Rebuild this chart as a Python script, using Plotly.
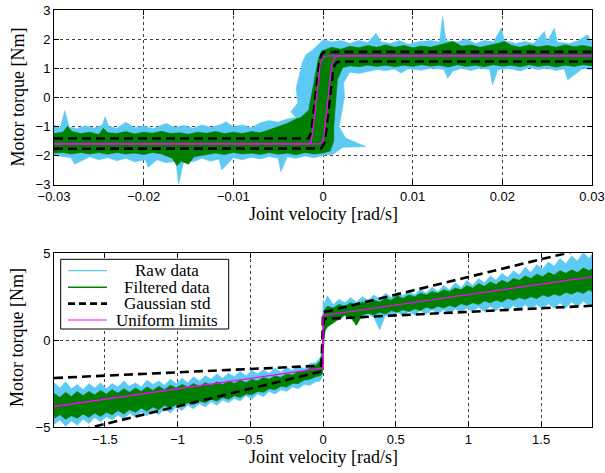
import plotly.graph_objects as go

# ---------------- TOP PANEL DATA (zoomed in near zero velocity) ----------------
TOP_RAW_UP_X = [-0.030, -0.0293, -0.0288, -0.0283, -0.0275, -0.0265, -0.0255, -0.0246, -0.0243, -0.0239,
                -0.023, -0.022, -0.021, -0.020, -0.019, -0.0175, -0.0165, -0.0155, -0.0145, -0.0135,
                -0.0125, -0.0113, -0.0108, -0.0100, -0.009, -0.008, -0.007, -0.006, -0.005, -0.004,
                -0.0030, -0.0036, -0.0028, -0.0030, -0.0025, -0.0023, -0.0019, -0.0012, -0.0004, 0.0001,
                0.001, 0.002, 0.003, 0.004, 0.005, 0.0059, 0.0065, 0.0075, 0.0085, 0.0095,
                0.0105, 0.012, 0.0130, 0.01334, 0.0137, 0.015, 0.016, 0.017, 0.018, 0.019,
                0.0199, 0.0202, 0.0215, 0.0225, 0.0235, 0.0247, 0.0250, 0.0258, 0.0261, 0.0275,
                0.0285, 0.0295, 0.030]
TOP_RAW_UP_Y = [-0.95, -1.05, -0.46, -1.02, -1.08, -0.98, -1.06, -0.95, -0.67, -1.0,
                -1.07, -0.86, -1.05, -0.98, -1.08, -0.90, -1.04, -0.97, -1.07, -0.95,
                -1.04, -0.93, -0.84, -1.02, -0.95, -1.05, -0.88, -0.80, -0.86, -0.75,
                -0.70, -0.50, -0.20, 0.30, 0.94, 1.20, 1.46, 1.62, 1.85, 1.98,
                1.90, 1.95, 1.85, 1.95, 1.88, 2.20, 1.90, 1.85, 1.95, 1.82,
                1.90, 1.95, 1.90, 2.78, 1.95, 1.90, 2.00, 1.85, 1.95, 1.90,
                2.38, 1.95, 1.85, 1.92, 1.85, 2.26, 1.90, 2.38, 1.90, 1.85,
                1.95, 2.15, 1.90]
TOP_RAW_LO_X = [0.030, 0.029, 0.0273, 0.0269, 0.026, 0.025, 0.024, 0.023, 0.022, 0.021,
                0.0195, 0.0189, 0.0186, 0.0175, 0.0165, 0.0155, 0.0145, 0.0139, 0.0135, 0.012,
                0.011, 0.0095, 0.0087, 0.008, 0.007, 0.006, 0.005, 0.004, 0.003, 0.0023,
                0.0024, 0.0020, 0.0018, 0.0025, 0.0048, 0.0022, 0.0012, 0.0, -0.001, -0.002,
                -0.003, -0.004, -0.0047, -0.0050, -0.006, -0.007, -0.008, -0.009, -0.010, -0.0113,
                -0.0116, -0.0125, -0.0135, -0.0145, -0.0155, -0.0161, -0.0164, -0.0175, -0.0185, -0.0195,
                -0.0198, -0.021, -0.022, -0.023, -0.024, -0.025, -0.026, -0.0277, -0.0281, -0.030]
TOP_RAW_LO_Y = [0.95, 1.00, 0.60, 0.98, 0.92, 1.00, 0.95, 1.02, 0.90, 0.98,
                0.95, 0.42, 0.95, 1.00, 0.92, 1.00, 0.90, 0.65, 0.95, 1.00,
                0.93, 0.98, 0.83, 0.97, 0.92, 0.95, 0.88, 0.82, 0.86, 0.50,
                0.02, -0.60, -1.01, -1.40, -1.70, -1.72, -1.95, -2.00, -2.08, -2.02,
                -2.10, -2.05, -2.56, -2.10, -2.04, -2.12, -2.06, -2.15, -2.08, -2.50,
                -2.12, -2.20, -2.10, -2.22, -2.15, -3.00, -2.20, -2.25, -2.15, -2.41,
                -2.15, -2.22, -2.10, -2.18, -2.08, -2.15, -2.05, -2.30, -2.08, -1.99]

TOP_FILT_UP_X = [-0.030, -0.029, -0.0285, -0.028, -0.027, -0.026, -0.025, -0.0245, -0.024, -0.023,
                 -0.022, -0.021, -0.020, -0.019, -0.018, -0.017, -0.016, -0.015, -0.014, -0.013,
                 -0.012, -0.011, -0.010, -0.009, -0.008, -0.007, -0.006, -0.005, -0.004, -0.003,
                 -0.0025, -0.0016, -0.0012, -0.0008, -0.0005, -0.0001, 0.001, 0.002, 0.003, 0.004,
                 0.005, 0.006, 0.007, 0.008, 0.009, 0.010, 0.011, 0.012, 0.013, 0.0145,
                 0.0155, 0.0165, 0.0175, 0.0185, 0.0195, 0.0202, 0.021, 0.022, 0.023, 0.024,
                 0.025, 0.026, 0.027, 0.028, 0.029, 0.030]
TOP_FILT_UP_Y = [-1.25, -1.20, -1.00, -1.18, -1.25, -1.20, -1.28, -1.07, -1.22, -1.25,
                 -1.18, -1.26, -1.20, -1.24, -1.17, -1.25, -1.22, -1.27, -1.20, -1.24,
                 -1.18, -1.25, -1.20, -1.25, -1.18, -1.22, -1.12, -1.00, -0.90, -0.75,
                 -0.70, -0.45, 0.20, 0.90, 1.35, 1.60, 1.72, 1.65, 1.75, 1.70,
                 1.78, 1.72, 1.80, 1.72, 1.78, 1.70, 1.76, 1.72, 1.80, 1.92,
                 1.75, 1.80, 1.72, 1.78, 1.85, 1.92, 1.78, 1.72, 1.80, 1.73,
                 1.78, 1.72, 1.80, 1.74, 1.78, 1.72]
TOP_FILT_LO_X = [0.030, 0.029, 0.028, 0.027, 0.026, 0.025, 0.024, 0.023, 0.022, 0.021,
                 0.020, 0.019, 0.018, 0.017, 0.016, 0.015, 0.014, 0.013, 0.012, 0.011,
                 0.010, 0.009, 0.008, 0.007, 0.006, 0.005, 0.004, 0.003, 0.0022, 0.0016,
                 0.0014, 0.0012, 0.0012, 0.0008, 0.0, -0.001, -0.002, -0.003, -0.004, -0.005,
                 -0.006, -0.007, -0.008, -0.009, -0.010, -0.011, -0.012, -0.013, -0.0144, -0.0150,
                 -0.0158, -0.0163, -0.0168, -0.018, -0.019, -0.020, -0.021, -0.022, -0.023, -0.024,
                 -0.025, -0.026, -0.027, -0.028, -0.029, -0.030]
TOP_FILT_LO_Y = [1.08, 1.12, 1.06, 1.10, 1.04, 1.10, 1.06, 1.12, 1.05, 1.10,
                 1.07, 1.12, 1.05, 1.10, 1.06, 1.12, 1.04, 1.10, 1.07, 1.12,
                 1.06, 1.10, 1.05, 1.10, 1.06, 1.10, 1.05, 1.08, 1.02, 0.60,
                 -0.20, -1.00, -1.50, -1.85, -1.92, -1.95, -1.90, -1.98, -1.92, -1.96,
                 -1.90, -1.97, -1.92, -1.95, -1.90, -1.97, -1.92, -1.98, -2.05, -2.30,
                 -2.20, -2.35, -2.10, -1.95, -1.90, -1.97, -1.92, -1.95, -1.90, -1.96,
                 -1.90, -1.95, -1.90, -1.95, -1.90, -1.92]

TOP_STD_UP_X = [-0.03, -0.0016, -0.0013, -0.0010, -0.0007, -0.0004, -0.0002, 0.0, 0.0003, 0.03]
TOP_STD_UP_Y = [-1.42, -1.42, -1.20, -0.40, 0.50, 1.20, 1.45, 1.54, 1.56, 1.56]
TOP_STD_LO_X = [-0.03, -0.0002, 0.0002, 0.0005, 0.0008, 0.0011, 0.0013, 0.0016, 0.002, 0.03]
TOP_STD_LO_Y = [-1.77, -1.76, -1.55, -0.80, 0.10, 0.85, 1.12, 1.21, 1.23, 1.23]

TOP_UNI_UP_X = [-0.03, -0.0016, -0.0013, -0.0011, -0.0008, -0.0005, -0.0003, 0.0, 0.0005, 0.03]
TOP_UNI_UP_Y = [-1.60, -1.60, -1.52, -1.10, -0.20, 0.60, 1.15, 1.37, 1.42, 1.42]
TOP_UNI_LO_X = [-0.03, -0.0004, 0.0, 0.0002, 0.0005, 0.0008, 0.0010, 0.0013, 0.0018, 0.03]
TOP_UNI_LO_Y = [-1.60, -1.60, -1.52, -1.10, -0.20, 0.60, 1.15, 1.37, 1.42, 1.42]

# ---------------- BOTTOM PANEL DATA (full velocity range) ----------------
# envelopes of the data clouds, read at these velocities (ascending)
BOT_X_NEG = [-1.85, -1.81, -1.77, -1.73, -1.69, -1.65, -1.61, -1.57,
             -1.53, -1.49, -1.45, -1.41, -1.37, -1.33, -1.29, -1.25,
             -1.21, -1.17, -1.13, -1.09, -1.05, -1.01, -0.97, -0.93,
             -0.89, -0.85, -0.81, -0.77, -0.73, -0.69, -0.65, -0.61,
             -0.57, -0.53, -0.49, -0.45, -0.41, -0.37, -0.33, -0.29,
             -0.25, -0.21, -0.17, -0.13, -0.09, -0.05, -0.02, -0.005]
BOT_X_POS = [0.0, 0.01, 0.03, 0.07, 0.11, 0.15, 0.19, 0.23,
             0.27, 0.31, 0.35, 0.39, 0.43, 0.47, 0.51, 0.55,
             0.59, 0.63, 0.67, 0.71, 0.75, 0.79, 0.83, 0.87,
             0.91, 0.95, 0.99, 1.03, 1.07, 1.11, 1.15, 1.19,
             1.23, 1.27, 1.31, 1.35, 1.39, 1.43, 1.47, 1.51,
             1.55, 1.59, 1.63, 1.67, 1.71, 1.75, 1.79, 1.83,
             1.85]

BOT_RAW_UP_NEG = [-2.45, -2.75, -2.40, -2.80, -2.55, -2.85, -2.50, -2.75,
                  -2.45, -2.80, -2.50, -2.70, -2.35, -2.65, -2.45, -2.70,
                  -2.30, -2.55, -2.35, -2.60, -2.25, -2.50, -2.20, -2.45,
                  -2.10, -2.35, -2.05, -2.25, -1.95, -2.20, -1.90, -2.10,
                  -1.80, -2.05, -1.75, -1.95, -1.70, -1.90, -1.60, -1.85,
                  -1.55, -1.75, -1.45, -1.65, -1.35, -1.30, -1.00, -0.55]
BOT_RAW_LO_NEG = [-4.85, -4.60, -4.95, -4.65, -4.90, -4.55, -4.80, -4.45,
                  -4.70, -4.40, -4.60, -4.30, -4.55, -4.20, -4.45, -4.15,
                  -4.35, -4.05, -4.30, -3.95, -4.20, -3.85, -4.05, -3.75,
                  -3.95, -3.65, -3.85, -3.55, -3.75, -3.45, -3.60, -3.35,
                  -3.50, -3.20, -3.40, -3.10, -3.25, -2.95, -3.10, -2.85,
                  -2.95, -2.70, -2.80, -2.55, -2.60, -2.40, -2.35, -2.10]
BOT_FILT_UP_NEG = [-3.05, -3.30, -3.00, -3.25, -2.95, -3.20, -2.95, -3.15,
                   -2.90, -3.10, -2.85, -3.05, -2.80, -3.00, -2.75, -2.95,
                   -2.70, -2.90, -2.65, -2.85, -2.60, -2.75, -2.55, -2.70,
                   -2.50, -2.65, -2.45, -2.60, -2.40, -2.55, -2.35, -2.50,
                   -2.30, -2.45, -2.25, -2.35, -2.15, -2.25, -2.05, -2.15,
                   -1.95, -2.00, -1.80, -1.80, -1.60, -1.45, -1.20, -0.80]
BOT_FILT_LO_NEG = [-4.50, -4.30, -4.55, -4.35, -4.50, -4.25, -4.45, -4.20,
                   -4.40, -4.15, -4.30, -4.05, -4.25, -4.00, -4.15, -3.90,
                   -4.10, -3.85, -4.00, -3.75, -3.90, -3.70, -3.80, -3.60,
                   -3.70, -3.50, -3.60, -3.40, -3.50, -3.30, -3.40, -3.20,
                   -3.30, -3.10, -3.15, -2.95, -3.00, -2.80, -2.85, -2.65,
                   -2.70, -2.50, -2.50, -2.30, -2.25, -2.10, -2.05, -1.95]
BOT_RAW_UP_POS = [2.30, 2.10, 2.55, 2.05, 2.35, 2.15, 2.45, 2.20,
                  2.50, 2.30, 2.60, 2.35, 2.70, 2.45, 2.75, 2.55,
                  2.85, 2.60, 2.95, 2.70, 3.05, 2.80, 3.15, 2.90,
                  3.30, 3.00, 3.45, 3.15, 3.55, 3.30, 3.70, 3.45,
                  3.85, 3.60, 4.00, 3.75, 4.20, 3.90, 4.35, 4.10,
                  4.50, 4.25, 4.70, 4.40, 4.85, 4.55, 5.05, 4.70,
                  4.95]
BOT_RAW_LO_POS = [-1.00, 0.30, 0.90, 1.25, 1.15, 1.40, 1.20, 1.40,
                  1.25, 1.50, 1.30, 0.60, 1.45, 1.35, 1.60, 1.40,
                  1.65, 1.45, 1.70, 1.50, 1.75, 1.50, 1.75, 1.55,
                  1.80, 1.60, 1.85, 1.65, 1.90, 1.65, 1.95, 1.70,
                  1.95, 1.70, 2.00, 1.75, 2.05, 1.75, 2.05, 1.80,
                  2.10, 1.85, 2.15, 1.85, 2.20, 1.90, 2.25, 1.95,
                  2.05]
BOT_FILT_UP_POS = [1.20, 1.75, 1.95, 1.85, 2.05, 1.95, 2.15, 2.00,
                   2.20, 2.10, 2.30, 2.20, 2.40, 2.30, 2.55, 2.40,
                   2.60, 2.50, 2.70, 2.60, 2.80, 2.70, 2.90, 2.80,
                   3.00, 2.90, 3.15, 3.00, 3.25, 3.10, 3.35, 3.20,
                   3.45, 3.30, 3.55, 3.45, 3.70, 3.55, 3.80, 3.65,
                   3.90, 3.75, 4.00, 3.85, 4.05, 3.90, 4.15, 4.00,
                   4.10]
BOT_FILT_LO_POS = [-1.20, 0.50, 0.75, 1.00, 1.20, 1.45, 1.30, 0.85,
                   1.45, 1.55, 1.45, 1.60, 1.50, 1.70, 1.60, 1.75,
                   1.65, 1.80, 1.70, 1.90, 1.80, 1.95, 1.85, 2.00,
                   1.90, 2.10, 2.00, 2.15, 2.05, 2.25, 2.15, 2.30,
                   2.20, 2.40, 2.30, 2.45, 2.35, 2.50, 2.40, 2.60,
                   2.50, 2.65, 2.55, 2.75, 2.65, 2.80, 2.70, 2.90,
                   2.80]

BOT_STD_UP_X = [-1.85, -0.01, 0.0, 0.01, 1.85]
BOT_STD_UP_Y = [-2.18, -1.47, 1.55, 1.62, 5.37]
BOT_STD_LO_X = [-1.85, -0.01, 0.005, 1.85]
BOT_STD_LO_Y = [-5.54, -1.80, 1.22, 1.98]

BOT_UNI_X = [-1.85, 0.0, 0.0, 1.85]
BOT_UNI_Y = [-3.82, -1.60, 1.42, 3.64]

TOP_XTICKS = [-0.03, -0.02, -0.01, 0, 0.01, 0.02, 0.03]
TOP_XTEXT = ["\u22120.03", "\u22120.02", "\u22120.01", "0", "0.01", "0.02", "0.03"]
TOP_YTICKS = [-3, -2, -1, 0, 1, 2, 3]
TOP_YTEXT = ["\u22123", "\u22122", "\u22121", "0", "1", "2", "3"]
BOT_XTICKS = [-1.5, -1, -0.5, 0, 0.5, 1, 1.5]
BOT_XTEXT = ["\u22121.5", "\u22121", "\u22120.5", "0", "0.5", "1", "1.5"]
BOT_YTICKS = [-5, 0, 5]
BOT_YTEXT = ["\u22125", "0", "5"]

NAMES = ["Raw data", "Filtered data", "Gaussian std", "Uniform limits"]
X_TITLE = "Joint velocity [rad/s]"
Y_TITLE = "Motor torque [Nm]"

BLUE = "#5CCAF2"
GREEN = "#007F00"
MAGENTA = "#FF00FF"
LEG_COLORS = [BLUE, GREEN, "black", MAGENTA]
LEG_WIDTHS = [1.2, 1.4, 2.6, 1.2]
LEG_DASH = ["solid", "solid", "7px,4px", "solid"]
SERIF = "Liberation Serif, Times New Roman, serif"
SANS = "Liberation Sans, Arial, sans-serif"

# page geometry in pixels (page body margin is removed below)
W, H = 605, 473
PLOT_L, PLOT_R, PLOT_T, PLOT_B = 54, 592, 10, 427
ML, MT, MR, MB = PLOT_L, PLOT_T, W - PLOT_R, H - PLOT_B
PW, PH = PLOT_R - PLOT_L, PLOT_B - PLOT_T


def px_x(px):
    return (px - PLOT_L) / PW


def px_y(py):
    return (PLOT_B - py) / PH


fig = go.Figure()


def band(xu, yu, xl, yl, color, xa, ya, name):
    fig.add_trace(go.Scatter(x=list(xu) + list(xl), y=list(yu) + list(yl), mode="lines",
                             fill="toself", fillcolor=color, line=dict(color=color, width=0.6),
                             name=name, showlegend=False, hoverinfo="skip", xaxis=xa, yaxis=ya))


def line(x, y, color, width, dash, xa, ya, name):
    fig.add_trace(go.Scatter(x=x, y=y, mode="lines", line=dict(color=color, width=width, dash=dash),
                             name=name, showlegend=False, hoverinfo="skip", xaxis=xa, yaxis=ya))


def cloud(up_neg, up_pos, lo_pos, lo_neg):
    xu = BOT_X_NEG + BOT_X_POS
    yu = up_neg + up_pos
    xl = BOT_X_POS[::-1] + BOT_X_NEG[::-1]
    yl = lo_pos[::-1] + lo_neg[::-1]
    return xu, yu, xl, yl


DASH = "9px,5px"
# top panel
band(TOP_RAW_UP_X, TOP_RAW_UP_Y, TOP_RAW_LO_X, TOP_RAW_LO_Y, BLUE, "x", "y", NAMES[0])
band(TOP_FILT_UP_X, TOP_FILT_UP_Y, TOP_FILT_LO_X, TOP_FILT_LO_Y, GREEN, "x", "y", NAMES[1])
line(TOP_STD_UP_X, TOP_STD_UP_Y, "black", 2.6, DASH, "x", "y", NAMES[2])
line(TOP_STD_LO_X, TOP_STD_LO_Y, "black", 2.6, DASH, "x", "y", NAMES[2])
line(TOP_UNI_UP_X, TOP_UNI_UP_Y, MAGENTA, 1.3, "solid", "x", "y", NAMES[3])
line(TOP_UNI_LO_X, TOP_UNI_LO_Y, MAGENTA, 1.3, "solid", "x", "y", NAMES[3])
# bottom panel
band(*cloud(BOT_RAW_UP_NEG, BOT_RAW_UP_POS, BOT_RAW_LO_POS, BOT_RAW_LO_NEG), BLUE, "x2", "y2", NAMES[0])
band(*cloud(BOT_FILT_UP_NEG, BOT_FILT_UP_POS, BOT_FILT_LO_POS, BOT_FILT_LO_NEG), GREEN, "x2", "y2", NAMES[1])
line(BOT_STD_UP_X, BOT_STD_UP_Y, "black", 2.6, DASH, "x2", "y2", NAMES[2])
line(BOT_STD_LO_X, BOT_STD_LO_Y, "black", 2.6, DASH, "x2", "y2", NAMES[2])
line(BOT_UNI_X, BOT_UNI_Y, MAGENTA, 1.3, "solid", "x2", "y2", NAMES[3])

axis_common = dict(showline=True, linecolor="black", linewidth=1, mirror="ticks",
                   ticks="inside", ticklen=5, tickcolor="black", zeroline=False, automargin=False,
                   showgrid=True, gridcolor="rgba(0,0,0,0.75)", gridwidth=1, griddash="dot",
                   tickfont=dict(family=SANS, size=13, color="black"))
title_font = dict(family=SERIF, size=18, color="black")

top_y0 = px_y(184.5)
bot_y1 = px_y(253.3)

annotations = []
# axis titles
for ypx in (214, 457):
    annotations.append(dict(text=X_TITLE, xref="paper", yref="paper", x=px_x(323), y=px_y(ypx),
                            xanchor="center", yanchor="middle", showarrow=False, font=title_font))
for ypx in (97.5, 338):
    annotations.append(dict(text=Y_TITLE, xref="paper", yref="paper", x=px_x(17), y=px_y(ypx),
                            xanchor="center", yanchor="middle", showarrow=False, textangle=-90,
                            font=title_font))

# legend (drawn box, samples and centred labels)
shapes = [dict(type="rect", xref="paper", yref="paper", x0=px_x(60.7), x1=px_x(228.7),
               y0=px_y(329), y1=px_y(259.3), line=dict(color="black", width=1),
               fillcolor="white", layer="above")]
row_px = [270.7, 287.3, 303.6, 320]
for name, color, width, dash, rpx in zip(NAMES, LEG_COLORS, LEG_WIDTHS, LEG_DASH, row_px):
    shapes.append(dict(type="line", xref="paper", yref="paper", x0=px_x(68), x1=px_x(107),
                       y0=px_y(rpx), y1=px_y(rpx), line=dict(color=color, width=width, dash=dash),
                       layer="above"))
    annotations.append(dict(text=name, xref="paper", yref="paper", x=px_x(167), y=px_y(rpx),
                            xanchor="center", yanchor="middle", showarrow=False, height=15,
                            borderpad=0, font=dict(family=SERIF, size=17, color="black")))

fig.update_layout(
    width=W, height=H,
    margin=dict(l=ML, r=MR, t=MT, b=MB),
    paper_bgcolor="white", plot_bgcolor="white",
    showlegend=False,
    xaxis=dict(domain=[0, 1], anchor="y", range=[-0.03, 0.03], tickvals=TOP_XTICKS,
               ticktext=TOP_XTEXT, **axis_common),
    yaxis=dict(domain=[top_y0, 1], anchor="x", range=[-3, 3], tickvals=TOP_YTICKS,
               ticktext=TOP_YTEXT, **axis_common),
    xaxis2=dict(domain=[0, 1], anchor="y2", range=[-1.85, 1.85], tickvals=BOT_XTICKS,
                ticktext=BOT_XTEXT, **axis_common),
    yaxis2=dict(domain=[0, bot_y1], anchor="x2", range=[-5, 5], tickvals=BOT_YTICKS,
                ticktext=BOT_YTEXT, **axis_common),
    annotations=annotations,
    shapes=shapes,
)

fig.write_html("out.html", config={"displayModeBar": False},
               post_script="document.body.style.margin='0px';document.body.style.overflow='hidden';")
